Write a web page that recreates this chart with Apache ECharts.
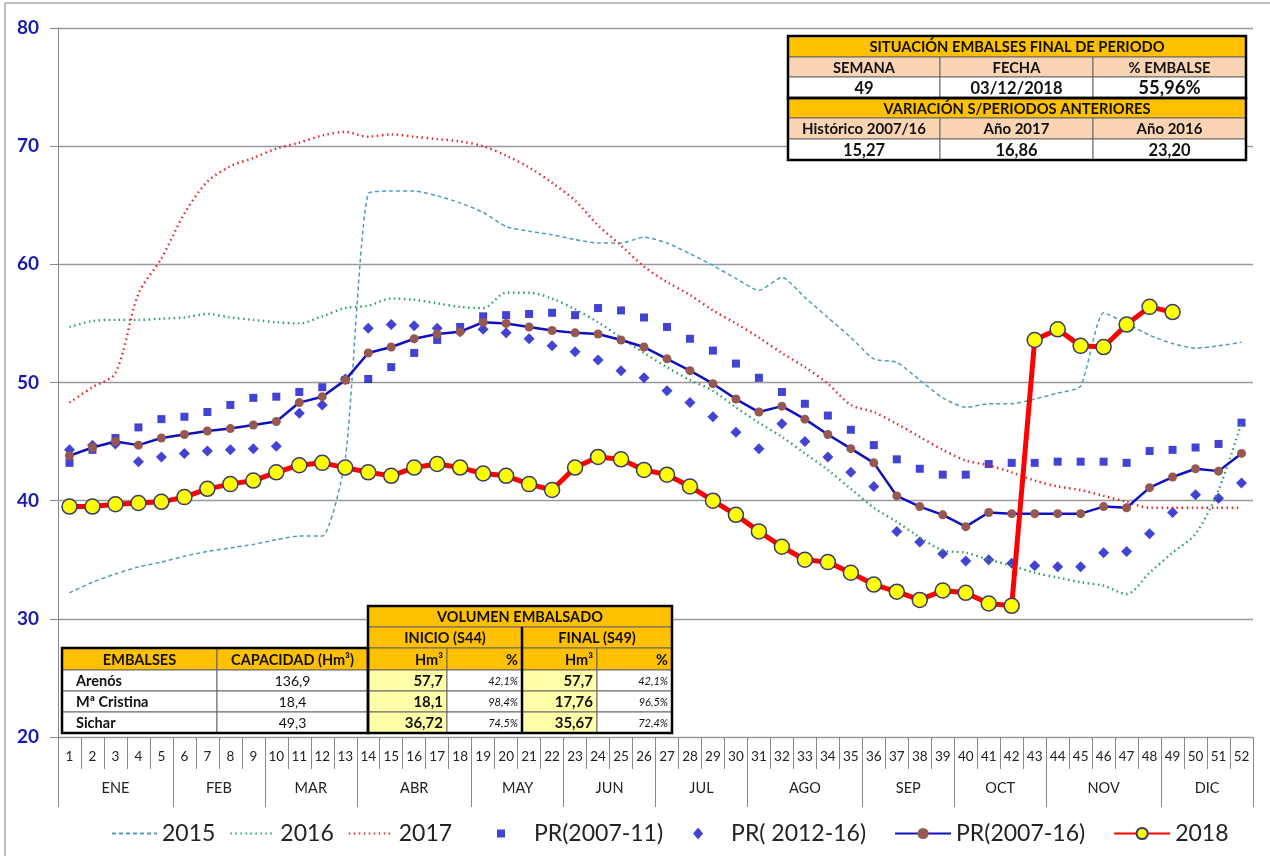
<!DOCTYPE html>
<html>
<head>
<meta charset="utf-8">
<title>Situación embalses</title>
<script src="https://cdn.jsdelivr.net/npm/echarts@6/dist/echarts.min.js"></script>
<style>
  html, body { margin: 0; padding: 0; background: #fff; }
  #chart { width: 1270px; height: 856px; }
</style>
</head>
<body>
<div id="chart"></div>
<script>
// semanas y meses
const semanas = ['1','2','3','4','5','6','7','8','9','10','11','12','13','14','15','16','17','18','19','20','21','22','23','24','25','26',
  '27','28','29','30','31','32','33','34','35','36','37','38','39','40','41','42','43','44','45','46','47','48','49','50','51','52'];
const meses = ['ENE','FEB','MAR','ABR','MAY','JUN','JUL','AGO','SEP','OCT','NOV','DIC'];
const semanasPorMes = [5,4,4,5,4,4,4,5,4,4,5,4];

// % embalsado por semana
const a2015 = [32.2,33.1,33.8,34.4,34.8,35.3,35.7,36.0,36.3,36.7,37.0,37.0,43.5,66.0,66.2,66.2,65.8,65.2,64.4,63.2,62.8,62.5,62.1,61.8,61.8,62.3,
  61.8,60.9,59.9,58.8,57.8,58.9,57.2,55.5,53.8,52.0,51.7,50.2,48.7,47.9,48.2,48.2,48.6,49.1,49.7,55.9,55.0,54.0,53.3,52.9,53.1,53.4];
const a2016 = [54.7,55.2,55.3,55.3,55.4,55.5,55.8,55.5,55.3,55.1,55.0,55.6,56.3,56.5,57.1,57.0,56.7,56.4,56.3,57.6,57.6,57.1,56.2,55.1,53.8,52.5,
  51.3,50.2,49.3,47.9,46.6,45.4,44.0,42.6,41.0,39.4,38.2,36.9,35.8,35.6,35.0,34.5,33.9,33.5,33.1,32.8,32.1,33.9,35.6,37.2,40.9,46.6];
const a2017 = [48.3,49.6,50.8,57.5,60.5,64.3,67.0,68.3,69.0,69.8,70.3,70.9,71.2,70.8,71.0,70.8,70.6,70.4,70.0,69.2,68.2,66.9,65.4,63.3,61.6,59.8,
  58.5,57.4,56.1,55.0,53.8,52.5,51.3,49.9,48.1,47.5,46.5,45.4,44.3,43.4,43.0,42.4,41.7,41.2,40.9,40.4,39.9,39.4,39.4,39.4,39.4,39.4];
const pr0711 = [43.2,44.3,45.3,46.2,46.9,47.1,47.5,48.1,48.7,48.8,49.2,49.6,50.2,50.3,51.3,52.5,53.6,54.7,55.6,55.7,55.8,55.9,55.7,56.3,56.1,55.5,
  54.7,53.7,52.7,51.6,50.4,49.2,48.2,47.2,46.0,44.7,43.5,42.7,42.2,42.2,43.1,43.2,43.2,43.3,43.3,43.3,43.2,44.2,44.3,44.5,44.8,46.6];
const pr1216 = [44.3,44.7,44.8,43.3,43.7,44.0,44.2,44.3,44.4,44.6,47.4,48.1,50.3,54.6,54.9,54.8,54.6,54.3,54.5,54.2,53.7,53.1,52.6,51.9,51.0,50.4,
  49.3,48.3,47.1,45.8,44.4,46.5,45.0,43.7,42.4,41.2,37.4,36.5,35.5,34.9,35.0,34.7,34.5,34.4,34.4,35.6,35.7,37.2,39.0,40.5,40.2,41.5];
const pr0716 = [43.8,44.5,45.0,44.7,45.3,45.6,45.9,46.1,46.4,46.7,48.3,48.8,50.2,52.5,53.0,53.7,54.1,54.3,55.1,55.0,54.7,54.4,54.2,54.1,53.6,53.0,
  52.0,51.0,49.9,48.6,47.5,48.0,46.9,45.6,44.4,43.2,40.4,39.5,38.8,37.8,39.0,38.9,38.9,38.9,38.9,39.5,39.4,41.1,42.0,42.7,42.5,44.0];
const a2018 = [39.5,39.5,39.7,39.8,39.9,40.3,41.0,41.4,41.7,42.4,43.0,43.2,42.8,42.4,42.1,42.8,43.1,42.8,42.3,42.1,41.4,40.9,42.8,43.7,43.5,42.6,
  42.2,41.2,40.0,38.8,37.4,36.1,35.0,34.8,33.9,32.9,32.3,31.6,32.4,32.2,31.3,31.1,53.6,54.5,53.1,53.0,54.9,56.4,55.96];

// tabla resumen (arriba derecha)
const resumenTitulo = 'SITUACIÓN EMBALSES FINAL DE PERIODO';
const resumenCab = ['SEMANA', 'FECHA', '% EMBALSE'];
const resumenVal = ['49', '03/12/2018', '55,96%'];
const variacionTitulo = 'VARIACIÓN S/PERIODOS ANTERIORES';
const variacionCab = ['Histórico 2007/16', 'Año 2017', 'Año 2016'];
const variacionVal = ['15,27', '16,86', '23,20'];

// tabla embalses (abajo izquierda)
const embalses = ['Arenós', 'Mª Cristina', 'Sichar'];
const capacidad = ['136,9', '18,4', '49,3'];
const inicioHm3 = ['57,7', '18,1', '36,72'];
const inicioPct = ['42,1%', '98,4%', '74,5%'];
const finalHm3 = ['57,7', '17,76', '35,67'];
const finalPct = ['42,1%', '96,5%', '72,4%'];

const FONT = 'Lato';
const NARANJA = '#FFC000';
const SALMON = '#FBD4B4';
const AMARILLO = '#FFFFAA';

// limites y centros de cada mes en semanas
const limitesMes = [0];
semanasPorMes.forEach((n, i) => limitesMes.push(limitesMes[i] + n));
const centrosMes = meses.map((m, i) => (limitesMes[i] + limitesMes[i + 1]) / 2);

// graficos de las tablas
const G = [];
function cell(x, y, w, h, text, o) {
  o = o || {};
  G.push({ type: 'rect', z: 100, shape: { x: x, y: y, width: w, height: h },
    style: { fill: o.bg || '#fff', stroke: '#666', lineWidth: 1 } });
  const align = o.align || 'center';
  const tx = align === 'left' ? x + 14 : align === 'right' ? x + w - 4 : x + w / 2;
  G.push({ type: 'text', z: 101, x: tx, y: y + h / 2 + 1,
    style: { text: text, fill: '#111', fontFamily: FONT, fontSize: o.size || 14.5,
      fontWeight: o.weight || 'bold', fontStyle: o.italic ? 'italic' : 'normal',
      align: align, verticalAlign: 'middle' } });
}
function frame(x, y, w, h) {
  G.push({ type: 'rect', z: 102, shape: { x: x, y: y, width: w, height: h },
    style: { fill: 'none', stroke: '#000', lineWidth: 2.5 } });
}

// tabla de arriba
(function () {
  const x0 = 788, cw = [152, 153, 153];
  const ys = [36, 57, 77, 98, 118, 139, 160];
  const xs = [x0, x0 + cw[0], x0 + cw[0] + cw[1]];
  const W = cw[0] + cw[1] + cw[2];
  cell(x0, ys[0], W, ys[1] - ys[0], resumenTitulo, { bg: NARANJA, size: 14.7 });
  resumenCab.forEach((t, i) => cell(xs[i], ys[1], cw[i], ys[2] - ys[1], t, { bg: SALMON, size: 14.7 }));
  resumenVal.forEach((t, i) => cell(xs[i], ys[2], cw[i], ys[3] - ys[2], t, { size: i === 2 ? 18.5 : 16.5 }));
  cell(x0, ys[3], W, ys[4] - ys[3], variacionTitulo, { bg: NARANJA, size: 14.7 });
  variacionCab.forEach((t, i) => cell(xs[i], ys[4], cw[i], ys[5] - ys[4], t, { bg: SALMON, size: 15 }));
  variacionVal.forEach((t, i) => cell(xs[i], ys[5], cw[i], ys[6] - ys[5], t, { size: 16.5 }));
  frame(x0, ys[0], W, ys[3] - ys[0]);
  frame(x0, ys[3], W, ys[6] - ys[3]);
})();

// tabla de abajo
(function () {
  const xs = [62, 217, 368, 447, 522, 597, 672];
  const ys = [606, 627, 648, 670, 691, 712, 733];
  const w = i => xs[i + 1] - xs[i];
  cell(xs[2], ys[0], xs[6] - xs[2], ys[1] - ys[0], 'VOLUMEN EMBALSADO', { bg: NARANJA });
  cell(xs[2], ys[1], xs[4] - xs[2], ys[2] - ys[1], 'INICIO (S44)', { bg: NARANJA });
  cell(xs[4], ys[1], xs[6] - xs[4], ys[2] - ys[1], 'FINAL (S49)', { bg: NARANJA });
  const cab = ['EMBALSES', 'CAPACIDAD (Hm³)', 'Hm³', '%', 'Hm³', '%'];
  cab.forEach((t, i) => cell(xs[i], ys[2], w(i), ys[3] - ys[2], t, { bg: NARANJA, align: i >= 2 ? 'right' : 'center' }));
  embalses.forEach((e, r) => {
    const y = ys[3 + r], h = ys[4 + r] - ys[3 + r];
    cell(xs[0], y, w(0), h, e, { align: 'left' });
    cell(xs[1], y, w(1), h, capacidad[r], { weight: 'normal', size: 14 });
    cell(xs[2], y, w(2), h, inicioHm3[r], { bg: AMARILLO, align: 'right', size: 15 });
    cell(xs[3], y, w(3), h, inicioPct[r], { align: 'right', weight: 'normal', italic: true, size: 11 });
    cell(xs[4], y, w(4), h, finalHm3[r], { bg: AMARILLO, align: 'right', size: 15 });
    cell(xs[5], y, w(5), h, finalPct[r], { align: 'right', weight: 'normal', italic: true, size: 11 });
  });
  frame(xs[0], ys[2], xs[2] - xs[0], ys[6] - ys[2]);
  frame(xs[2], ys[0], xs[6] - xs[2], ys[6] - ys[0]);
  G.push({ type: 'line', z: 102, shape: { x1: xs[4], y1: ys[1], x2: xs[4], y2: ys[6] },
    style: { stroke: '#000', lineWidth: 2.5 } });
})();

// marco exterior
G.push({ type: 'rect', z: 0, shape: { x: 5, y: 3, width: 1270, height: 860 },
  style: { fill: 'none', stroke: '#aaa', lineWidth: 1.5 } });

const sinSimbolo = { color: 'rgba(0,0,0,0)', borderWidth: 0, opacity: 0 };
const textoLeyenda = { fontSize: 23, color: '#222', fontFamily: FONT };

const chart = echarts.init(document.getElementById('chart'));
chart.setOption({
  animation: false,
  backgroundColor: '#fff',
  textStyle: { fontFamily: FONT },
  grid: { left: 58, right: 17, top: 28, bottom: 119, containLabel: false, outerBoundsMode: 'none' },
  legend: [{
    left: 106, top: 817, itemWidth: 45, itemHeight: 14, itemGap: 14, textStyle: textoLeyenda,
    data: [
      { name: '2015', itemStyle: sinSimbolo },
      { name: '2016', itemStyle: sinSimbolo },
      { name: '2017', itemStyle: sinSimbolo }
    ]
  }, {
    left: 489, top: 817, itemWidth: 56, itemHeight: 14, itemGap: 28, textStyle: textoLeyenda,
    data: [
      { name: 'PR(2007-11)', icon: 'path://M0,0M3,3h8v8h-8zM14,14' },
      { name: 'PR( 2012-16)', icon: 'path://M0,0M7,1L12,7L7,13L2,7zM14,14' },
      'PR(2007-16)',
      '2018'
    ]
  }],
  xAxis: [{
    type: 'category', data: semanas, boundaryGap: true,
    axisLine: { show: true, lineStyle: { color: '#999' } },
    axisTick: { show: true, interval: 0, length: 32, lineStyle: { color: '#888' } },
    axisLabel: { interval: 0, margin: 13, fontSize: 13.5, color: '#222', fontFamily: FONT },
    splitLine: { show: false }
  }, {
    type: 'value', min: 0, max: 52, position: 'bottom',
    axisLine: { show: false }, splitLine: { show: false },
    axisTick: { show: true, customValues: limitesMes, length: 70, lineStyle: { color: '#888' } },
    axisLabel: { customValues: centrosMes, formatter: v => meses[centrosMes.indexOf(v)],
      margin: 44, fontSize: 14.5, color: '#222', fontFamily: FONT }
  }],
  yAxis: {
    type: 'value', min: 20, max: 80, interval: 10,
    axisLine: { show: true, lineStyle: { color: '#888' } },
    axisTick: { show: true, length: 8, lineStyle: { color: '#888' } },
    axisLabel: { margin: 19, fontSize: 19, fontWeight: 'bold', color: '#1a1ab0', fontFamily: FONT },
    splitLine: { lineStyle: { color: '#999', width: 1.3 } }
  },
  series: [
    { name: '2015', type: 'line', data: a2015, symbol: 'none', smooth: 0.2,
      lineStyle: { color: '#4f9cbc', width: 1.5, type: [4, 3] }, itemStyle: { color: '#4f9cbc' } },
    { name: '2016', type: 'line', data: a2016, symbol: 'none', smooth: 0.3,
      lineStyle: { color: '#2f9e62', width: 2.4, type: [1.5, 3.5] }, itemStyle: { color: '#2f9e62' } },
    { name: '2017', type: 'line', data: a2017, symbol: 'none', smooth: 0.3,
      lineStyle: { color: '#e8222a', width: 2.4, type: [1.5, 3.5] }, itemStyle: { color: '#e8222a' } },
    { name: 'PR(2007-11)', type: 'scatter', data: pr0711, symbol: 'rect', symbolSize: 8,
      itemStyle: { color: '#1414c8' } },
    { name: 'PR( 2012-16)', type: 'scatter', data: pr1216, symbol: 'diamond', symbolSize: 11,
      itemStyle: { color: '#1414c8' } },
    { name: 'PR(2007-16)', type: 'line', data: pr0716, symbol: 'circle', symbolSize: 9,
      lineStyle: { color: '#1010bf', width: 2.5 }, itemStyle: { color: '#96594f' } },
    { name: '2018', type: 'line', data: a2018, symbol: 'circle', symbolSize: 15,
      lineStyle: { color: '#ff0000', width: 5 },
      itemStyle: { color: '#ffff00', borderColor: '#3a3a6a', borderWidth: 1.5 } }
  ],
  graphic: G
});
</script>
</body>
</html>
